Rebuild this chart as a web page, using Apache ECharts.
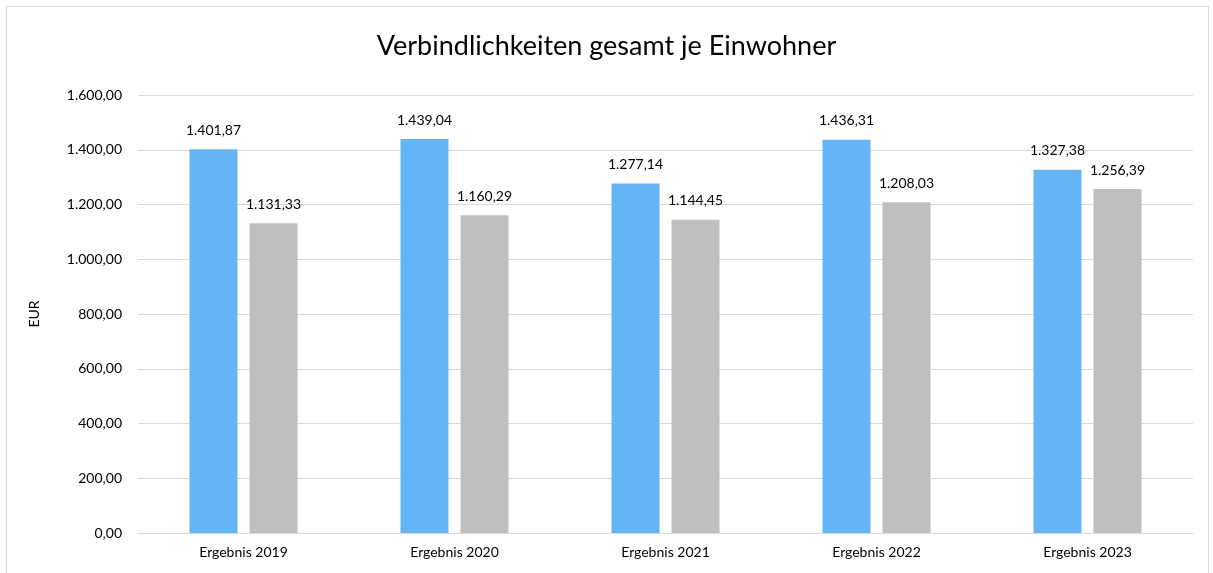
<!DOCTYPE html>
<html><head><meta charset="utf-8">
<script src="https://cdn.jsdelivr.net/npm/echarts@6/dist/echarts.min.js"></script>
<style>
html,body{margin:0;padding:0;background:#fff;}
#frame{position:absolute;left:6px;top:6px;width:1203px;height:580px;border:1px solid #D9D9D9;box-sizing:border-box;}
#chart{position:absolute;left:0;top:0;width:1213px;height:573px;}
</style></head>
<body>
<div id="frame"></div>
<div id="chart"></div>
<script>
const categories = ['Ergebnis 2019','Ergebnis 2020','Ergebnis 2021','Ergebnis 2022','Ergebnis 2023'];
const seriesA = [1401.87, 1439.04, 1277.14, 1436.31, 1327.38];
const seriesB = [1131.33, 1160.29, 1144.45, 1208.03, 1256.39];
const yTicks = {min: 0, max: 1600, interval: 200};

function fmt(v){
  const s = v.toFixed(2).split('.');
  const intPart = s[0].replace(/\B(?=(\d{3})+(?!\d))/g, '.');
  return intPart + ',' + s[1];
}
const FONT = 'Lato, "Open Sans", sans-serif';
const chart = echarts.init(document.getElementById('chart'), null, {renderer:'canvas'});
chart.setOption({
  animation:false,
  backgroundColor:'transparent',
  textStyle:{fontFamily:FONT},
  title:{text:'Verbindlichkeiten gesamt je Einwohner', left:'center', top:28,
    textStyle:{fontFamily:FONT, fontSize:27, fontWeight:'normal', color:'#000'}},
  grid:{left:138, right:20, top:95, bottom:40, containLabel:false},
  xAxis:{type:'category', data:categories,
    axisLine:{lineStyle:{color:'#D9D9D9', width:1}}, axisTick:{show:false},
    axisLabel:{color:'#000', fontSize:14, margin:12, fontFamily:FONT}},
  yAxis:{type:'value', min:yTicks.min, max:yTicks.max, interval:yTicks.interval,
    name:'EUR', nameLocation:'middle', nameGap:97, nameRotate:90,
    nameTextStyle:{color:'#000', fontSize:14, fontFamily:FONT},
    axisLine:{show:false}, axisTick:{show:false},
    splitLine:{lineStyle:{color:'#D9D9D9', width:1}},
    axisLabel:{color:'#000', fontSize:14, margin:16, fontFamily:FONT, formatter:v=>fmt(v)}},
  series:[
    {type:'bar', data:seriesA, barWidth:48, barGap:'25%', itemStyle:{color:'#64B5F6'},
     label:{show:true, position:'top', distance:12, color:'#000', fontSize:14, fontFamily:FONT, formatter:p=>fmt(p.value)}},
    {type:'bar', data:seriesB, barWidth:48, itemStyle:{color:'#BFBFBF'},
     label:{show:true, position:'top', distance:12, color:'#000', fontSize:14, fontFamily:FONT, formatter:p=>fmt(p.value)}}
  ]
});
</script>
</body></html>
